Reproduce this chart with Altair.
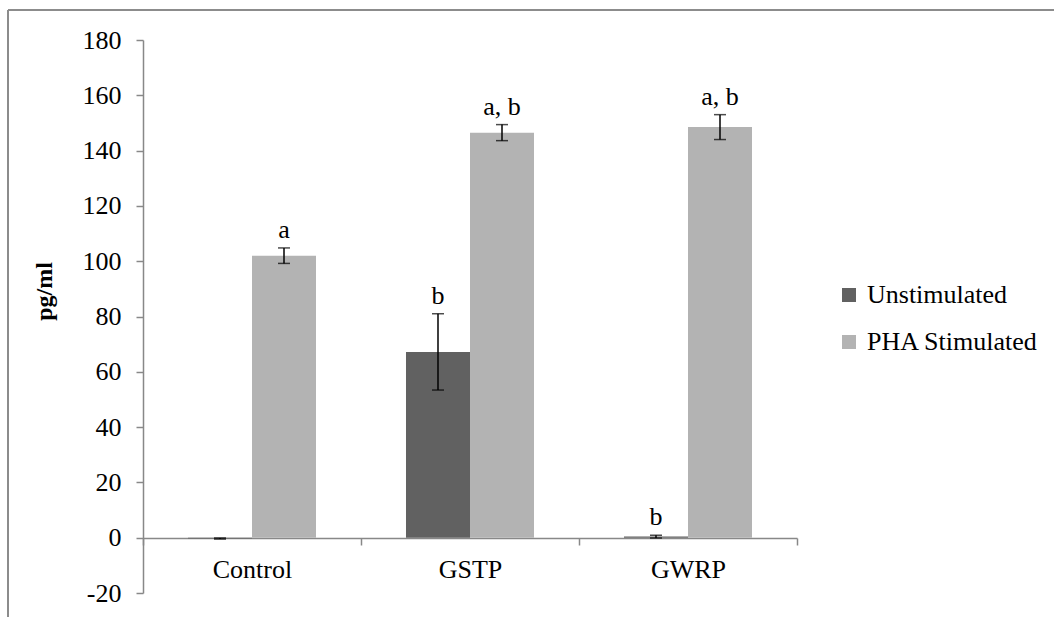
import altair as alt
import pandas as pd

# Cytokine levels (pg/ml) per treatment group, unstimulated vs PHA stimulated
groups = ["Control", "GSTP", "GWRP"]
series = ["Unstimulated", "PHA Stimulated"]
unstim_mean = [-0.3, 67.2, 0.4]
unstim_err = [0.2, 13.8, 0.5]
pha_mean = [102.0, 146.5, 148.5]
pha_err = [2.8, 2.9, 4.5]
unstim_sig = ["", "b", "b"]
pha_sig = ["a", "a, b", "a, b"]

rows = []
for i, g in enumerate(groups):
    rows.append(dict(group=g, series=series[0], mean=unstim_mean[i],
                     lo=unstim_mean[i] - unstim_err[i], hi=unstim_mean[i] + unstim_err[i],
                     sig=unstim_sig[i]))
    rows.append(dict(group=g, series=series[1], mean=pha_mean[i],
                     lo=pha_mean[i] - pha_err[i], hi=pha_mean[i] + pha_err[i],
                     sig=pha_sig[i]))
df = pd.DataFrame(rows)

FONT = "Liberation Serif"
FS = 26
AXIS_GRAY = "#888888"

x_scale = alt.Scale(paddingInner=0, paddingOuter=0)
x_enc = alt.X("group:N", sort=groups, title=None, scale=x_scale,
              axis=alt.Axis(labelAngle=0, offset=-55, tickBand="extent",
                            tickSize=7, labelPadding=11))
x_plain = alt.X("group:N", sort=groups, scale=x_scale)
xo_enc = alt.XOffset("series:N", sort=series,
                     scale=alt.Scale(paddingInner=0, paddingOuter=0.703))
y_scale = alt.Scale(domain=[-20, 180], nice=False, zero=False)

bars = alt.Chart(df).mark_bar().encode(
    x=x_enc,
    xOffset=xo_enc,
    y=alt.Y("mean:Q", scale=y_scale, title="pg/ml",
            axis=alt.Axis(values=list(range(-20, 181, 20)), grid=False,
                          labelExpr="'' + datum.value",
                          tickSize=7, labelPadding=15,
                          titleFontSize=24, titleFontWeight="bold",
                          titleAngle=270, titleX=-99, titleY=251,
                          titleAlign="center", titleBaseline="middle")),
    y2=alt.datum(0),
    color=alt.Color("series:N", sort=series,
                    scale=alt.Scale(domain=series, range=["#616161", "#b3b3b3"]),
                    legend=alt.Legend(title=None, orient="none", legendX=693, legendY=242,
                                      symbolType="square", symbolSize=196,
                                      symbolStrokeWidth=0, rowPadding=21, labelOffset=5,
                                      labelLimit=400)),
)

err_rule = alt.Chart(df).mark_rule(color="black", strokeWidth=1.5).encode(
    x=x_plain, xOffset=xo_enc,
    y=alt.Y("lo:Q", scale=y_scale), y2="hi:Q",
)
cap_lo = alt.Chart(df).mark_tick(color="black", thickness=1.5, size=12,
                                 orient="horizontal").encode(
    x=x_plain, xOffset=xo_enc,
    y=alt.Y("lo:Q", scale=y_scale),
)
cap_hi = alt.Chart(df).mark_tick(color="black", thickness=1.5, size=12,
                                 orient="horizontal").encode(
    x=x_plain, xOffset=xo_enc,
    y=alt.Y("hi:Q", scale=y_scale),
)
sig = alt.Chart(df).mark_text(font=FONT, fontSize=FS, baseline="alphabetic",
                              dy=-10, color="black").encode(
    x=x_plain, xOffset=xo_enc,
    y=alt.Y("hi:Q", scale=y_scale), text="sig:N",
)

# Outer chart frame (open at the right and bottom edges)
frame_top = alt.Chart(df).mark_rule(color="#8c8c8c", strokeWidth=2).encode(
    x=alt.value(-135), x2=alt.value(940), y=alt.value(-30))
frame_left = alt.Chart(df).mark_rule(color="#8c8c8c", strokeWidth=2).encode(
    x=alt.value(-135), y=alt.value(-30), y2=alt.value(600))

chart = alt.layer(bars, err_rule, cap_lo, cap_hi, sig, frame_top, frame_left).properties(
    width=654, height=553,
    padding={"left": 143, "top": 40, "right": 257, "bottom": 24},
    autosize=alt.AutoSizeParams(type="none"),
    background="white",
).configure_view(
    stroke=None
).configure_axis(
    labelFont=FONT, labelFontSize=FS, labelColor="black",
    titleFont=FONT, titleColor="black",
    domainColor=AXIS_GRAY, tickColor=AXIS_GRAY, domainWidth=1.5, tickWidth=1.5,
).configure_legend(
    labelFont=FONT, labelFontSize=FS, labelColor="black",
)

chart.save("out.html", embed_options={"renderer": "svg", "actions": False})
